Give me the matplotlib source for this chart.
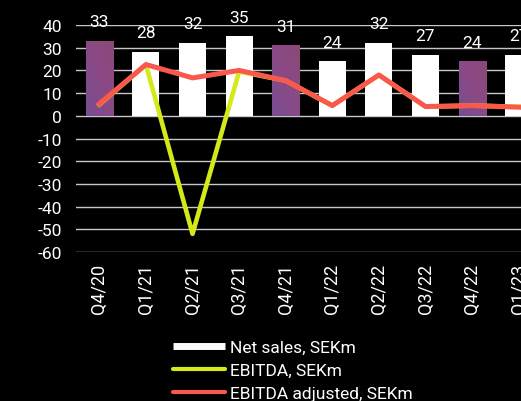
import matplotlib
matplotlib.use('Agg')
import numpy as np
import matplotlib.pyplot as plt
from matplotlib.lines import Line2D
from matplotlib.colors import LinearSegmentedColormap

plt.rcParams['font.family'] = ['Roboto', 'DejaVu Sans']
plt.rcParams['axes.unicode_minus'] = False

# data
quarters = ['Q4/20', 'Q1/21', 'Q2/21', 'Q3/21', 'Q4/21', 'Q1/22', 'Q2/22', 'Q3/22', 'Q4/22', 'Q1/23']
net_sales = [33, 28, 32, 35, 31, 24, 32, 27, 24, 27]
ebitda = [5, 22.5, -52, 19.5, 15.5, 4.5, 18, 4, 4.5, 4]
ebitda_adj = [5.3, 22.6, 16.7, 20, 15.5, 4.5, 18, 4.1, 4.5, 3.8]

purple = LinearSegmentedColormap.from_list('purp', ['#774e92', '#8a4a86', '#8c4878'])

fig = plt.figure(figsize=(5.21, 4.02), dpi=100, facecolor='black')
ax = fig.add_axes([0.146, 0.3706, 0.854, 0.5647], facecolor='black')

x = range(len(quarters))
bars = ax.bar(x, net_sales, width=0.58, color='white', zorder=2)
# Q4 bars get a purple gradient fill
gy, gx = np.mgrid[0:1:50j, 0:1:50j]
grad = gx * 0.5 + (1 - gy) * 0.5
for q, b in zip(quarters, bars):
    if q.startswith('Q4'):
        b.set_facecolor('none')
        b.set_edgecolor('none')
        x0, w, h = b.get_x(), b.get_width(), b.get_height()
        im = ax.imshow(grad, cmap=purple, extent=(x0, x0 + w, 0, h),
                       origin='upper', aspect='auto', zorder=2)
        im.set_clip_path(b)

for i, v in enumerate(net_sales):
    ax.annotate(str(v), (i, v), xytext=(0, 8.5), textcoords='offset points',
                ha='center', va='bottom', color='white', fontsize=12.5)

ax.plot(x, ebitda, color='#d4e81a', lw=3.3, zorder=3)
ax.plot(x, ebitda_adj, color='#f9584c', lw=3.6, zorder=4)

ax.set_xlim(-0.5, 9.05)
ax.set_ylim(-60, 40)
ax.set_yticks(range(-60, 41, 10))
ax.set_xticks(list(x))
ax.set_xticklabels(quarters, rotation=90)
ax.grid(axis='y', color='#c8c8c8', lw=1, zorder=1)
for s in ax.spines.values():
    s.set_visible(False)
ax.tick_params(axis='both', length=0, colors='white')
ax.tick_params(axis='y', pad=10, labelsize=12.5)
ax.tick_params(axis='x', pad=8, labelsize=13)

handles = [
    Line2D([], [], color='white', lw=5, solid_capstyle='butt'),
    Line2D([], [], color='#d4e81a', lw=3, solid_capstyle='round'),
    Line2D([], [], color='#f9584c', lw=3, solid_capstyle='round'),
]
labels = ['Net sales, SEKm', 'EBITDA, SEKm', 'EBITDA adjusted, SEKm']
fig.legend(handles, labels, loc='upper left', bbox_to_anchor=(0.332, 0.152),
           frameon=False, fontsize=12.5, labelcolor='white',
           handlelength=3.0, handletextpad=0.3, labelspacing=0.45,
           borderpad=0, borderaxespad=0)

plt.savefig('out.png', dpi=100, facecolor='black')
